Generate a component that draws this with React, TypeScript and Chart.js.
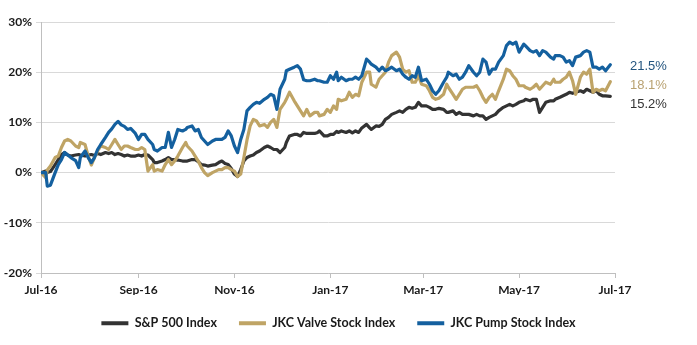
import React, { useEffect, useRef } from "react";
import { Chart, registerables } from "chart.js";

Chart.register(...registerables);

// x positions: days since 1 Jul 2016
const days = [
  0, 3, 4, 6, 9, 11, 13, 15, 17, 19,
  22, 24, 25, 28, 30, 32, 34, 36, 38, 41,
  43, 45, 47, 49, 51, 53, 55, 57, 60, 62,
  64, 66, 68, 71, 72, 74, 77, 79, 81, 83,
  85, 87, 90, 92, 93, 96, 98, 100, 102, 104,
  106, 109, 111, 113, 115, 117, 119, 121, 123, 125,
  127, 129, 131, 133, 135, 137, 139, 142, 144, 146,
  148, 150, 152, 155, 156, 158, 161, 163, 165, 167,
  169, 171, 174, 176, 177, 180, 182, 184, 186, 188,
  189, 191, 194, 196, 198, 200, 202, 204, 207, 209,
  210, 213, 215, 217, 219, 221, 223, 226, 228, 230,
  232, 234, 236, 238, 240, 242, 245, 247, 249, 251,
  253, 256, 258, 259, 262, 264, 266, 268, 270, 272,
  275, 277, 279, 281, 283, 285, 287, 289, 291, 294,
  296, 298, 300, 302, 304, 307, 308, 311, 313, 315,
  317, 319, 321, 324, 326, 327, 330, 332, 334, 336,
  338, 340, 343, 345, 347, 349, 351, 353, 355, 357,
  359, 362,
];

const sp500 = [
  0, 0.3, 0, 0.2, 1.6, 2.6, 3.6, 4, 3.5, 3.3,
  3.5, 3.6, 3.5, 3.3, 3.5, 3.6, 3.4, 3.8, 3.6, 4,
  3.8, 4, 3.6, 3.8, 3.6, 3.3, 3.5, 3.3, 3.3, 3.5,
  3.3, 3.6, 3.5, 2.6, 2, 2, 2.3, 2.6, 3, 2.6,
  2.6, 2.5, 2.3, 2.3, 2.3, 2.6, 2.6, 2.2, 1.6, 1.5,
  1.3, 1.5, 1.6, 2, 2.3, 1.8, 1.6, 0.8, -0.3, -0.8,
  0.6, 2.3, 3, 3.3, 3.5, 4, 4.3, 5, 5.3, 5,
  4.6, 4.6, 4, 5, 6, 7.3, 7.6, 7.6, 7.3, 8,
  7.8, 7.8, 7.8, 8, 8.3, 7.3, 7.3, 7.6, 7.6, 8.2,
  8, 8.3, 8, 8.3, 7.9, 8.3, 8, 8.9, 9.6, 8.9,
  8.6, 9.3, 9.2, 9.6, 10.6, 11, 11.6, 12, 12.3, 12,
  12.6, 13, 12.8, 13, 14, 13.3, 13.3, 13, 12.6, 12.6,
  12.8, 12.6, 12, 12, 12.3, 11.6, 12, 11.6, 11.6, 11.6,
  11.3, 11.6, 11.3, 11.3, 10.6, 11, 11.3, 11.6, 12.3, 13,
  13.3, 13.6, 13.3, 13.6, 14, 14.3, 14.6, 14.3, 14.6, 14.6,
  12, 13, 14, 14.3, 14.3, 14.6, 15, 15.3, 15.6, 16,
  15.8, 16, 16.3, 16, 16.6, 16.3, 16, 16.3, 15.6, 15.3,
  15.3, 15.2,
];

const valve = [
  0, -1, 0.5, 1.3, 3, 3.3, 5, 6.3, 6.6, 6.3,
  5.3, 5, 6, 5.6, 3.3, 1.5, 3, 4.3, 5.3, 5,
  4.6, 5.6, 6.6, 5.6, 4.6, 5.3, 5.3, 5, 4.6, 4.6,
  5, 4.6, 0.3, 1.6, 0.3, 0.6, 0.3, 1.6, 2.6, 1.6,
  2.3, 3.3, 5, 6, 5.3, 4.3, 3.3, 2.3, 1, 0,
  -0.6, 0, 0.3, 0.6, 0.6, 1, 1, 0.6, 0.3, -0.8,
  -0.3, 3, 6.5, 9.3, 10.6, 10.3, 9.3, 9.6, 9, 10,
  10.6, 9, 12.6, 14, 14.6, 16, 14.3, 13.3, 12.3, 11.3,
  12.6, 11.3, 12, 12, 11.3, 11.6, 12.6, 12, 13.3, 12.6,
  14.6, 14.3, 14.6, 16, 15, 15.6, 15.3, 18, 20, 20,
  17.6, 17, 18.6, 19.3, 20, 22, 23.3, 24, 23, 20.6,
  20, 20.3, 18, 18, 19.3, 17.6, 17.3, 16.3, 15, 14.6,
  14.8, 15.6, 17.6, 17, 15.6, 14.6, 15.6, 16.6, 17, 17,
  17, 17.3, 16.3, 15, 14, 15, 15.6, 14.6, 16.3, 18.6,
  20.6, 20.3, 19.3, 18.6, 17.3, 17.3, 17, 16.6, 17, 17.6,
  16.6, 17.3, 18, 17.6, 18.6, 18, 18, 18.6, 19, 20,
  18.3, 15.6, 19, 20, 19.6, 20.6, 16, 16.6, 16.3, 16.6,
  16.3, 18.1,
];

const pump = [
  0, 0, -2.7, -2.5, 0, 1.6, 2.6, 4, 3.5, 3,
  2.4, 1, 3, 4.3, 3, 2, 3, 4.6, 5.6, 7,
  8, 8.7, 9.6, 10.2, 9.5, 9.2, 8.6, 8.8, 7.8, 6.6,
  7.6, 7.6, 6.6, 5.6, 4.6, 4.3, 5, 5, 8, 5,
  6.6, 8.6, 8.3, 8.6, 9, 9.3, 8.3, 8.6, 7, 6.3,
  5.6, 6.3, 6.6, 6.6, 6.6, 7, 8.3, 7.3, 5.3, 4,
  6.6, 8.6, 12.3, 13, 13.6, 14, 13.8, 14.6, 15, 15.6,
  15.3, 12.6, 16.6, 18.6, 20.3, 20.6, 21, 21.3, 20.6, 18.5,
  18.3, 18.3, 18.6, 18.3, 18.3, 18, 18, 19.3, 18.6, 20,
  18.3, 19, 18.3, 18.6, 18.6, 19, 18.6, 19.3, 22.6, 22,
  21.6, 21, 20.3, 21, 20.3, 20.6, 21, 20.3, 20.6, 19.6,
  19, 18.6, 19.3, 19, 21, 18.3, 18.6, 17.6, 16.3, 15.6,
  16.3, 18, 19, 20, 19.3, 19.6, 18.6, 19, 20, 21.3,
  20, 19.3, 20, 22.6, 22, 19.6, 20.6, 20.6, 22, 23.3,
  25.3, 26, 25.6, 26, 24, 25.6, 25.3, 24.3, 24, 24.3,
  23.3, 24.3, 24, 23, 22.6, 23.3, 23.3, 23, 22, 22.3,
  21.3, 23, 23.3, 24, 24.3, 24, 21, 21, 20.6, 21,
  20.3, 21.5,
];

const tickDays = [0, 62, 123, 184, 243, 304, 365];
const tickLabels = ["Jul-16", "Sep-16", "Nov-16", "Jan-17", "Mar-17", "May-17", "Jul-17"];

const seriesNames = ["S&P 500 Index", "JKC Valve Stock Index", "JKC Pump Stock Index"];
const seriesColors = ["#333333", "#bfa465", "#14609f"];

const endValues = [15.2, 18.1, 21.5];
const endLabels = ["15.2%", "18.1%", "21.5%"];
const endColors = ["#333333", "#b9a272", "#24557f"];

const axisFont = { family: "Lato, 'DejaVu Sans', sans-serif", size: 12, weight: "bold" as const };

const endLabelPlugin = {
  id: "endLabels",
  afterDraw(chart: any) {
    const { ctx, chartArea, scales } = chart;
    const ys = scales.y;
    const order = endValues.map((_, i) => i).sort((a, b) => endValues[b] - endValues[a]);
    let prev = -Infinity;
    ctx.save();
    ctx.font = "13px 'Liberation Sans', Arial, sans-serif";
    ctx.textAlign = "left";
    ctx.textBaseline = "middle";
    order.forEach((i) => {
      let y = ys.getPixelForValue(endValues[i]) + 1.5;
      if (y < prev + 19) y = prev + 19;
      prev = y;
      ctx.fillStyle = endColors[i];
      ctx.fillText(endLabels[i], chartArea.right + 15, y);
    });
    ctx.restore();
  },
};

const legendHeightPlugin = {
  id: "legendHeight",
  afterInit(chart: any) {
    const legend = chart.legend;
    if (!legend) return;
    const orig = legend.fit;
    legend.fit = function () {
      orig.call(this);
      this.height = 50;
    };
  },
};

export default function App() {
  const ref = useRef<HTMLCanvasElement>(null);

  useEffect(() => {
    document.body.style.margin = "0";
    const seriesData = [sp500, valve, pump];
    const chart = new Chart(ref.current as HTMLCanvasElement, {
      type: "line",
      data: {
        datasets: seriesData.map((arr, k) => ({
          label: seriesNames[k],
          data: days.map((d, i) => ({ x: d, y: arr[i] })),
          borderColor: seriesColors[k],
          backgroundColor: seriesColors[k],
          borderWidth: 3.2,
          pointRadius: 0,
          tension: 0,
          borderJoinStyle: "round" as const,
          borderCapStyle: "round" as const,
          order: 3 - k,
        })),
      },
      options: {
        responsive: false,
        animation: false,
        devicePixelRatio: 1,
        layout: { padding: { top: 22, right: 20, bottom: 0, left: 0 } },
        scales: {
          x: {
            type: "linear",
            min: 0,
            max: 365,
            afterBuildTicks: (s: any) => {
              s.ticks = tickDays.map((v) => ({ value: v }));
            },
            afterFit: (s: any) => {
              s.height = 22;
            },
            ticks: {
              autoSkip: false,
              maxRotation: 0,
              padding: 5,
              color: "#1a1a1a",
              font: axisFont,
              callback: (v: any) => {
                const i = tickDays.indexOf(Number(v));
                return i >= 0 ? tickLabels[i] : "";
              },
            },
            grid: { drawOnChartArea: false, tickLength: 5, color: "#bfbfbf" },
            border: { color: "#bfbfbf" },
          },
          y: {
            min: -20,
            max: 30,
            afterFit: (s: any) => {
              s.width = 41;
            },
            ticks: {
              stepSize: 10,
              padding: 4,
              color: "#1a1a1a",
              font: axisFont,
              callback: (v: any) => `${v}%`,
            },
            grid: { color: "#d9d9d9", tickLength: 5 },
            border: { color: "#bfbfbf" },
          },
          y2: {
            position: "right",
            display: true,
            afterFit: (s: any) => {
              s.width = 62;
            },
            ticks: { display: false },
            grid: { display: false },
            border: { display: false },
          },
        },
        plugins: {
          legend: {
            position: "bottom",
            labels: {
              boxWidth: 27,
              boxHeight: 4,
              padding: 22,
              color: "#1a1a1a",
              font: { family: "Lato, 'DejaVu Sans', sans-serif", size: 12.5, weight: "bold" },
              sort: (a: any, b: any) => a.datasetIndex - b.datasetIndex,
              generateLabels: (chart: any) =>
                (Chart.defaults.plugins.legend.labels.generateLabels as any)(chart).map((l: any) => ({
                  ...l,
                  lineWidth: 0,
                })),
            },
          },
          tooltip: { enabled: false },
        },
      },
      plugins: [endLabelPlugin, legendHeightPlugin],
    } as any);
    return () => chart.destroy();
  }, []);

  return (
    <div style={{ width: 697, height: 345 }}>
      <canvas ref={ref} width={697} height={345} style={{ display: "block" }} />
    </div>
  );
}
